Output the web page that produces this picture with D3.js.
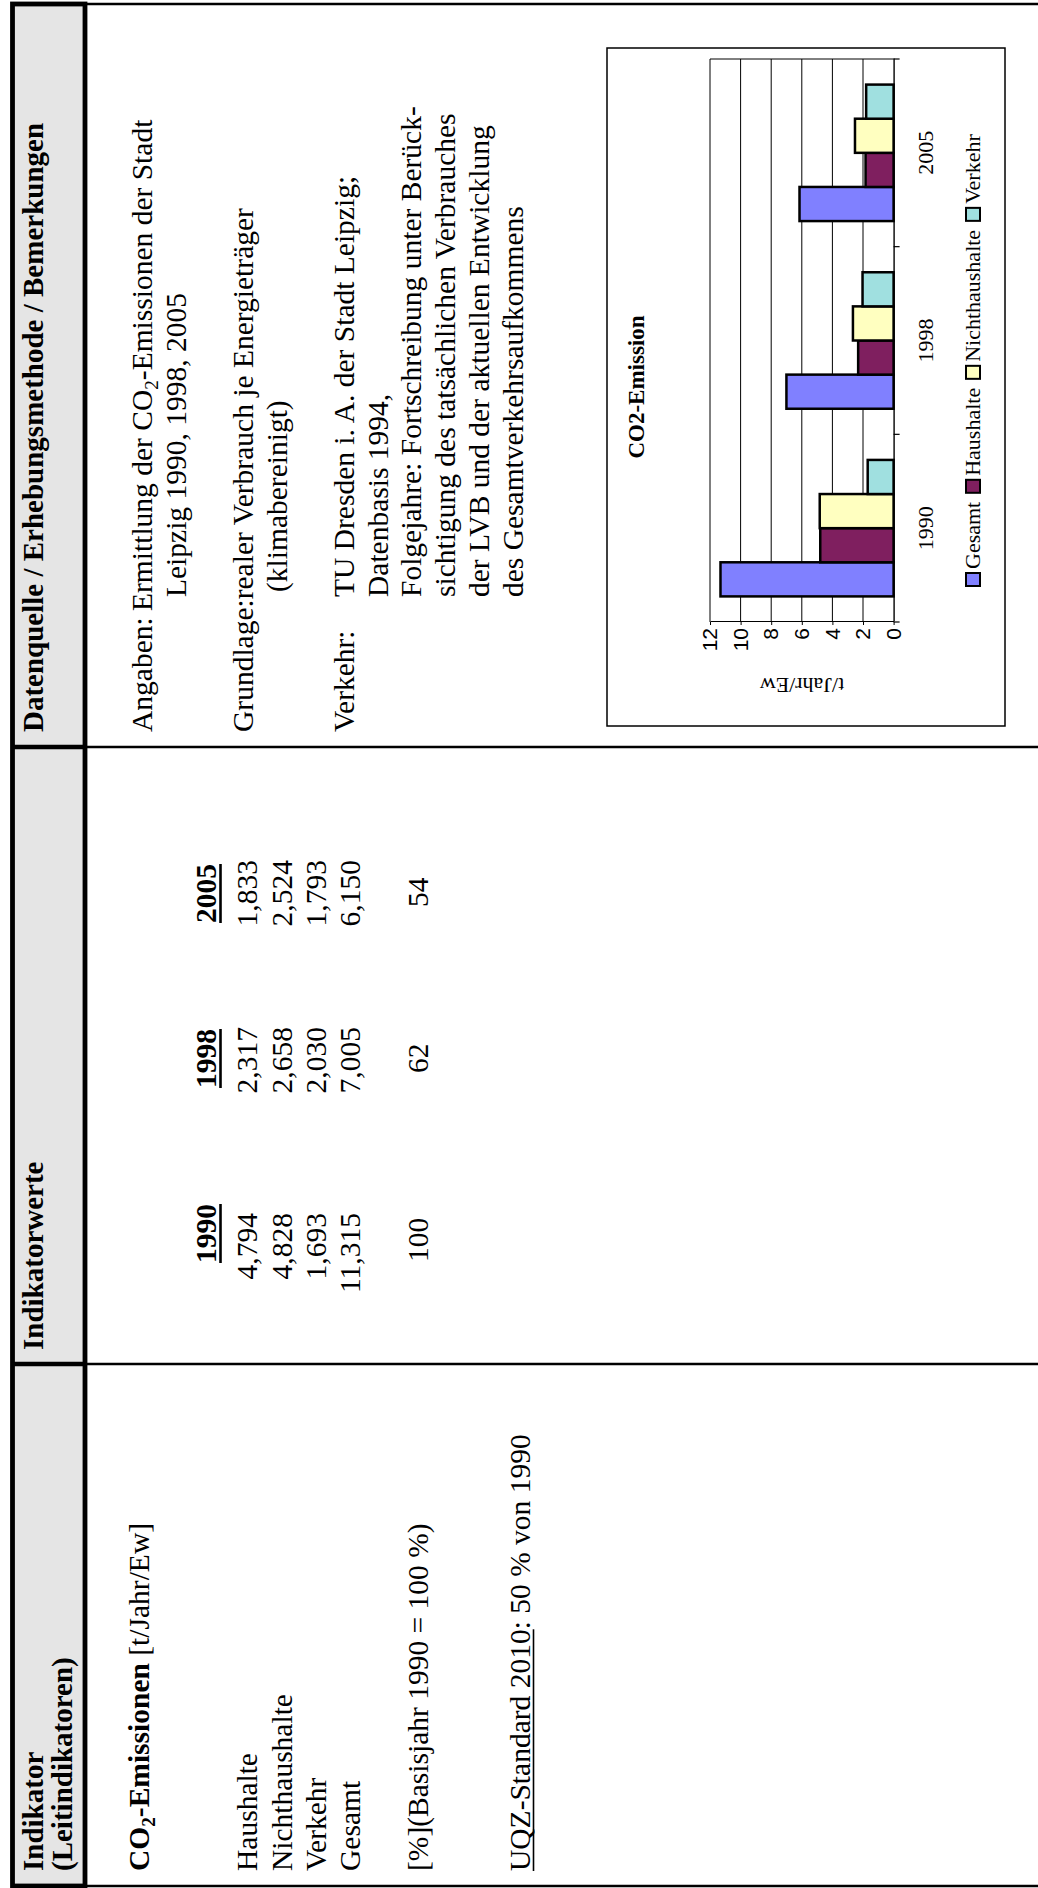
<!DOCTYPE html>
<html><head><meta charset="utf-8">
<script src="https://cdn.jsdelivr.net/npm/d3@7/dist/d3.min.js"></script>
<style>html,body{margin:0;padding:0;background:#fff;overflow:hidden}svg{display:block}</style>
</head><body>
<svg id="page" width="1038" height="1888"></svg>
<script>
// ---------- data ----------
const years = ["1990", "1998", "2005"];
const seriesNames = ["Gesamt", "Haushalte", "Nichthaushalte", "Verkehr"];
const gesamt = [11.315, 7.005, 6.150];
const haushalte = [4.794, 2.317, 1.833];
const nichthaushalte = [4.828, 2.658, 2.524];
const verkehr = [1.693, 2.030, 1.793];
const percentOf1990 = [100, 62, 54];
const rowLabels = ["Haushalte", "Nichthaushalte", "Verkehr", "Gesamt"];
const valueTicks = [0, 2, 4, 6, 8, 10, 12];
const seriesColors = ["#8080ff", "#7f1f5f", "#ffffc0", "#a0e0e0"];

const seriesValues = {Gesamt: gesamt, Haushalte: haushalte, Nichthaushalte: nichthaushalte, Verkehr: verkehr};
const tableRows = [haushalte, nichthaushalte, verkehr, gesamt];

// ---------- page (drawn in landscape, rotated onto the portrait sheet) ----------
const PW = 1888;
const SERIF = "'Liberation Serif','Times New Roman',Times,serif";
const SANS = "'Liberation Sans',Arial,Helvetica,sans-serif";
const F = 29.5;
const svg = d3.select("#page");
const g = svg.append("g").attr("transform", `translate(0,${PW}) rotate(-90)`);

function addText(parent, u, v, parts, o = {}) {
  const size = o.size || F;
  const t = parent.append("text").attr("x", u).attr("y", v)
    .attr("font-family", o.family || SERIF).attr("font-size", size)
    .attr("text-anchor", o.anchor || "start").attr("fill", "#000");
  if (o.bold) t.attr("font-weight", "bold");
  parts.forEach(p => {
    if (typeof p === "string") p = {t: p};
    const ts = t.append("tspan").text(p.t);
    if (p.b) ts.attr("font-weight", "bold");
    if (p.sub) ts.attr("font-size", size * 0.65).attr("dy", size * 0.2);
    if (p.after) ts.attr("dy", -size * 0.2);
  });
  return t;
}
function underline(t, v, w) {
  const bb = t.node().getBBox();
  g.append("line").attr("x1", bb.x).attr("x2", bb.x + bb.width)
    .attr("y1", v).attr("y2", v).attr("stroke", "#000").attr("stroke-width", w);
}

// table frame
const uL = 2, uR = 1884, div1 = 524, div2 = 1141;
g.append("rect").attr("x", uL).attr("y", 12.5).attr("width", uR - uL).attr("height", 72.5)
  .attr("fill", "#e5e5e5");
[[uL, 2.5], [uR, 2.5], [div1, 2.3], [div2, 2.3]].forEach(([u, w]) => {
  g.append("line").attr("x1", u).attr("x2", u).attr("y1", 12).attr("y2", 1040)
    .attr("stroke", "#000").attr("stroke-width", w);
});
g.append("rect").attr("x", uL).attr("y", 12.5).attr("width", uR - uL).attr("height", 72.5)
  .attr("fill", "none").attr("stroke", "#000").attr("stroke-width", 4.8);
[div1, div2].forEach(u => g.append("line").attr("x1", u).attr("x2", u).attr("y1", 12).attr("y2", 86)
  .attr("stroke", "#000").attr("stroke-width", 4.5));

// header texts
addText(g, 17, 43, ["Indikator"], {bold: true, size: 29});
addText(g, 17, 72, ["(Leitindikatoren)"], {bold: true, size: 29});
addText(g, 538, 43, ["Indikatorwerte"], {bold: true, size: 29});
addText(g, 1156, 43, ["Datenquelle / Erhebungsmethode / Bemerkungen"], {bold: true, size: 29});

// column 1
addText(g, 17, 149, [{t: "CO", b: true}, {t: "2", b: true, sub: true}, {t: "-Emissionen", b: true, after: true}, " [t/Jahr/Ew]"]);
const rowV = [257, 292, 326, 360];
rowLabels.forEach((l, i) => addText(g, 17, rowV[i], [l]));
addText(g, 17, 428, ["[%](Basisjahr 1990 = 100 %)"]);
const uqz = addText(g, 17, 530, ["UQZ-Standard 2010"]);
underline(uqz, 533.5, 1.6);
addText(g, 17 + uqz.node().getComputedTextLength(), 530, [": 50 % von 1990"]);

// column 2
const fmt = v => d3.format(".3f")(v).replace(".", ",");
const yearStart = [625, 800, 965], valueEnd = [675, 861, 1028], pctStart = [626, 815, 981];
years.forEach((y, j) => {
  const t = addText(g, yearStart[j], 216, [y], {bold: true});
  underline(t, 220.5, 2.6);
  tableRows.forEach((arr, i) => addText(g, valueEnd[j], rowV[i], [fmt(arr[j])], {anchor: "end"}));
  addText(g, pctStart[j], 428, [String(percentOf1990[j])]);
});

// column 3
const c3 = 1156;
addText(g, c3, 152, ["Angaben:"]);
addText(g, 1277, 152, ["Ermittlung der CO", {t: "2", sub: true}, {t: "-Emissionen der Stadt", after: true}]);
addText(g, 1291, 186, ["Leipzig 1990, 1998, 2005"]);
addText(g, c3, 253, ["Grundlage:realer Verbrauch je Energieträger"]);
addText(g, 1296, 287, ["(klimabereinigt)"]);
addText(g, c3, 354, ["Verkehr:"]);
[["TU Dresden i. A. der Stadt Leipzig;", 354], ["Datenbasis 1994,", 388],
 ["Folgejahre: Fortschreibung unter Berück-", 421], ["sichtigung des tatsächlichen Verbrauches", 455],
 ["der LVB und der aktuellen Entwicklung", 489], ["des Gesamtverkehrsaufkommens", 523]]
  .forEach(([s, v]) => addText(g, 1291, v, [s]));

// ---------- chart ----------
const ch = g.append("g");
ch.append("rect").attr("x", 1162).attr("y", 607).attr("width", 678).attr("height", 398)
  .attr("fill", "#fff").attr("stroke", "#000").attr("stroke-width", 1.5);

const x0 = d3.scaleBand().domain(years).range([1266, 1829]).paddingInner(0).paddingOuter(0);
const x1 = d3.scaleBand().domain(seriesNames).range([0, x0.bandwidth()]).paddingInner(0).paddingOuter(0.75);
const y = d3.scaleLinear().domain([0, 12]).range([893.6, 710]);
const color = d3.scaleOrdinal().domain(seriesNames).range(seriesColors);

// gridlines
ch.append("g").selectAll("line").data(valueTicks.filter(d => d > 0)).join("line")
  .attr("x1", 1266).attr("x2", 1829).attr("y1", d => y(d)).attr("y2", d => y(d))
  .attr("stroke", "#000").attr("stroke-width", 1);
ch.append("line").attr("x1", 1829).attr("x2", 1829).attr("y1", y(12)).attr("y2", y(0))
  .attr("stroke", "#000").attr("stroke-width", 1);

// bars
ch.append("g").selectAll("g").data(years).join("g")
  .attr("transform", d => `translate(${x0(d)},0)`)
  .selectAll("rect").data((d, j) => seriesNames.map(s => ({s, v: seriesValues[s][j]}))).join("rect")
  .attr("x", d => x1(d.s)).attr("width", x1.bandwidth())
  .attr("y", d => y(d.v)).attr("height", d => y(0) - y(d.v))
  .attr("fill", d => color(d.s)).attr("stroke", "#000").attr("stroke-width", 2.5);

// value axis
const ay = ch.append("g").attr("transform", "translate(1266,0)")
  .call(d3.axisLeft(y).tickValues(valueTicks).tickSizeInner(3).tickSizeOuter(0).tickPadding(3));
ay.select(".domain").attr("stroke", "#000").attr("stroke-width", 1.2);
ay.selectAll(".tick line").attr("stroke", "#000");
ay.selectAll("text").attr("font-family", SANS).attr("font-size", 21).attr("fill", "#000");

// category axis
const ax = ch.append("g").attr("transform", `translate(0,${y(0)})`)
  .call(d3.axisBottom(x0).tickSize(0).tickPadding(0));
ax.select(".domain").attr("stroke", "#000").attr("stroke-width", 1.4);
ax.selectAll("text").attr("font-family", SERIF).attr("font-size", 22).attr("fill", "#000")
  .attr("y", 39).attr("dy", 0);
ch.append("g").selectAll("line").data(d3.range(years.length + 1)).join("line")
  .attr("x1", i => 1266 + i * x0.step()).attr("x2", i => 1266 + i * x0.step())
  .attr("y1", y(0)).attr("y2", y(0) + 6).attr("stroke", "#000").attr("stroke-width", 1.2);

// titles
ch.append("text").attr("transform", "translate(1210,802) rotate(-90)").attr("text-anchor", "middle")
  .attr("font-family", SERIF).attr("font-size", 22).text("t/Jahr/Ew");
ch.append("text").attr("x", 1501).attr("y", 644).attr("text-anchor", "middle")
  .attr("font-family", SERIF).attr("font-size", 23).attr("font-weight", "bold").text("CO2-Emission");

// legend
let lu = 1302;
const lg = ch.append("g");
seriesNames.forEach(s => {
  lg.append("rect").attr("x", lu).attr("y", 966).attr("width", 13).attr("height", 14)
    .attr("fill", color(s)).attr("stroke", "#000").attr("stroke-width", 2);
  const t = lg.append("text").attr("x", lu + 17).attr("y", 980).attr("font-family", SERIF)
    .attr("font-size", 22).text(s);
  lu += 17 + t.node().getComputedTextLength() + 9;
});
</script>
</body></html>
